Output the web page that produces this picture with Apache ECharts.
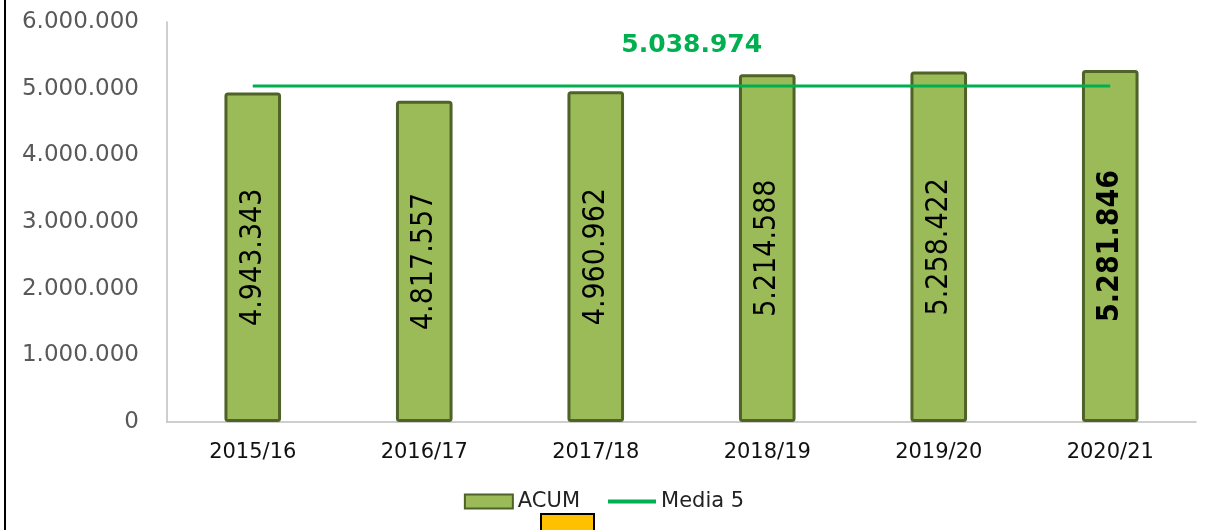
<!DOCTYPE html>
<html lang="es">
<head>
    <meta charset="UTF-8">
    <script src="https://cdn.jsdelivr.net/npm/echarts@6/dist/echarts.min.js"></script>
</head>
<body style="margin:0;background:#fff;">

<div id="main" style="width: 1208px;height:530px;"></div>

<script type="text/javascript">
    // datos
    var temporadas = ['2015/16', '2016/17', '2017/18', '2018/19', '2019/20', '2020/21'];
    var acum = [4943343, 4817557, 4960962, 5214588, 5258422, 5281846];
    var media5 = [5038974, 5038974, 5038974, 5038974, 5038974, 5038974];

    function fmt(v) {
        return String(v).replace(/\B(?=(\d{3})+(?!\d))/g, '.');
    }

    var myChart = echarts.init(document.getElementById('main'));

    var option = {
        animation: false,
        grid: { left: 167, right: 12, top: 22, bottom: 108 },
        legend: {
            bottom: 13,
            left: 'center',
            itemGap: 26,
            itemWidth: 48,
            itemHeight: 14,
            textStyle: { fontSize: 21, color: '#222', fontFamily: 'DejaVu Sans' },
            data: [
                { name: 'ACUM', icon: 'rect' },
                { name: 'Media 5', itemStyle: { opacity: 0 }, lineStyle: { width: 4 } }
            ]
        },
        xAxis: {
            type: 'category',
            data: temporadas,
            axisLine: { lineStyle: { color: '#bfbfbf', width: 1.5 } },
            axisTick: { show: false },
            axisLabel: { color: '#111', fontSize: 21, margin: 20, fontFamily: 'DejaVu Sans' }
        },
        yAxis: {
            type: 'value',
            min: 0,
            max: 6000000,
            interval: 1000000,
            splitLine: { show: false },
            axisLine: { show: true, lineStyle: { color: '#bfbfbf', width: 1.5 } },
            axisLabel: {
                color: '#595959', fontSize: 23, margin: 28, fontFamily: 'DejaVu Sans',
                formatter: function (v) { return fmt(v); }
            }
        },
        series: [
            {
                name: 'ACUM',
                type: 'bar',
                data: acum,
                barWidth: '33%',
                itemStyle: {
                    color: '#9bbb59',
                    borderColor: '#4f6228',
                    borderWidth: 3,
                    borderRadius: 2
                },
                label: {
                    show: true,
                    position: 'inside',
                    rotate: 90,
                    fontSize: 30,
                    color: '#000',
                    fontFamily: 'DejaVu Sans Condensed',
                    formatter: function (p) {
                        return p.dataIndex === acum.length - 1 ? '{b|' + fmt(p.value) + '}' : fmt(p.value);
                    },
                    rich: {
                        b: { fontSize: 30, fontWeight: 'bold', color: '#000', fontFamily: 'DejaVu Sans Condensed' }
                    }
                }
            },
            {
                name: 'Media 5',
                type: 'line',
                data: media5,
                symbol: 'none',
                lineStyle: { color: '#00b050', width: 3 },
                itemStyle: { color: '#00b050' },
                markPoint: {
                    symbol: 'rect',
                    symbolSize: 1,
                    itemStyle: { color: 'transparent' },
                    data: [{ coord: [2, media5[0]], value: media5[0] }],
                    label: {
                        show: true,
                        position: 'top',
                        distance: 28,
                        offset: [96, 0],
                        color: '#00b050',
                        fontSize: 25,
                        fontWeight: 'bold',
                        fontFamily: 'DejaVu Sans',
                        formatter: function (p) { return fmt(p.value); }
                    }
                }
            }
        ],
        graphic: [
            { type: 'rect', left: 4, top: 0, shape: { width: 2, height: 530 }, style: { fill: '#000' } },
            { type: 'rect', left: 540, top: 513, shape: { width: 53, height: 20 }, style: { fill: '#ffc000', stroke: '#000', lineWidth: 2 } }
        ]
    };

    myChart.setOption(option);
</script>
</body>
</html>
